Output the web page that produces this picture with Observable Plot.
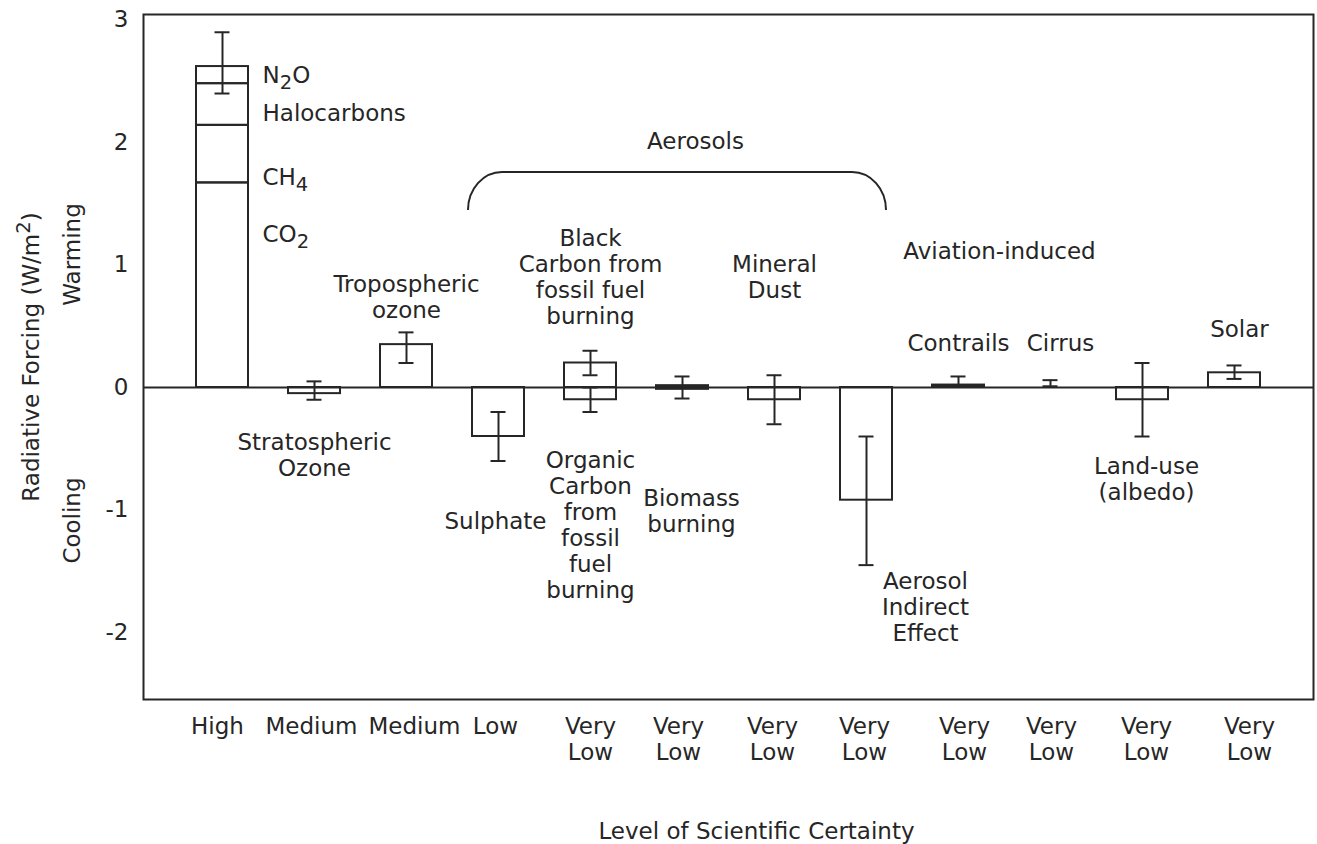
<!DOCTYPE html>
<html>
<head>
<meta charset="utf-8">
<script src="https://cdn.jsdelivr.net/npm/d3@7"></script>
<script src="https://cdn.jsdelivr.net/npm/@observablehq/plot@0.6"></script>
<style>
  html, body { margin: 0; padding: 0; background: #fff; overflow: hidden; }
</style>
</head>
<body>
<div id="chart"></div>
<script>
// ---------- data ----------
const agents = [
  "Well-mixed greenhouse gases", "Stratospheric ozone", "Tropospheric ozone", "Sulphate",
  "Fossil fuel carbon", "Biomass burning", "Mineral dust", "Aerosol indirect effect",
  "Contrails", "Cirrus", "Land-use (albedo)", "Solar"
];
const certainty = [
  "High", "Medium", "Medium", "Low", "Very\nLow", "Very\nLow", "Very\nLow", "Very\nLow",
  "Very\nLow", "Very\nLow", "Very\nLow", "Very\nLow"
];

// stacked well-mixed greenhouse gases (W/m2)
const ghgGases = ["CO₂", "CH₄", "Halocarbons", "N₂O"];
const ghgForcing = [1.67, 0.47, 0.34, 0.14];

// other forcing boxes: agent, base, top (W/m2)
const barAgents = [
  "Stratospheric ozone", "Tropospheric ozone", "Sulphate", "Fossil fuel carbon", "Fossil fuel carbon",
  "Biomass burning", "Mineral dust", "Aerosol indirect effect", "Contrails", "Land-use (albedo)", "Solar"
];
const barBase = [0, 0, 0, 0, 0, -0.015, 0, 0, 0, 0, 0];
const barTop  = [-0.05, 0.35, -0.4, 0.2, -0.1, 0.015, -0.1, -0.92, 0.02, -0.1, 0.12];

// uncertainty ranges
const errAgents = [
  "Well-mixed greenhouse gases", "Stratospheric ozone", "Tropospheric ozone", "Sulphate",
  "Fossil fuel carbon", "Fossil fuel carbon", "Biomass burning", "Mineral dust",
  "Aerosol indirect effect", "Contrails", "Cirrus", "Land-use (albedo)", "Solar"
];
const errLow  = [2.4, -0.1, 0.2, -0.6, 0.1, -0.2, -0.09, -0.3, -1.45, 0.01, 0.01, -0.4, 0.07];
const errHigh = [2.9, 0.05, 0.45, -0.2, 0.3, 0.0, 0.09, 0.1, -0.4, 0.09, 0.06, 0.2, 0.18];

// annotation texts, the bar they belong to, and their height (W/m2)
const labelText = [
  "N₂O", "Halocarbons", "CH₄", "CO₂",
  "Tropospheric\nozone", "Stratospheric\nOzone", "Aerosols",
  "Black\nCarbon from\nfossil fuel\nburning", "Mineral\nDust", "Aviation-induced",
  "Contrails", "Cirrus", "Solar", "Sulphate",
  "Organic\nCarbon\nfrom\nfossil\nfuel\nburning", "Biomass\nburning",
  "Aerosol\nIndirect\nEffect", "Land-use\n(albedo)"
];
const labelAgent = [
  "Well-mixed greenhouse gases", "Well-mixed greenhouse gases", "Well-mixed greenhouse gases", "Well-mixed greenhouse gases",
  "Tropospheric ozone", "Stratospheric ozone", "Biomass burning",
  "Fossil fuel carbon", "Mineral dust", "Contrails",
  "Contrails", "Cirrus", "Solar", "Sulphate",
  "Fossil fuel carbon", "Biomass burning",
  "Aerosol indirect effect", "Land-use (albedo)"
];
const labelAt = [
  2.55, 2.245, 1.72, 1.257,
  0.743, -0.547, 2.016,
  0.902, 0.902, 1.118,
  0.367, 0.367, 0.48, -1.086,
  -1.122, -1.004,
  -1.788, -0.747
];
const sideLabels = ["Warming", "Cooling"];
const sideAt = [1.086, -1.086];

// ---------- layout (styling only) ----------
const labelDx = [40, 40, 40, 40, 0, 0, 13, 0, 0, 41, 0, 10, 5, -3, 0, 9, 59, 4];
const labelAlign = ["start", "start", "start", "start", "middle", "middle", "middle", "middle", "middle",
  "middle", "middle", "middle", "middle", "middle", "middle", "middle", "middle", "middle"];
const tickDx = [-5, -3, 8, -3, 0, -4, -2, -2, 6, 1, 4, 15];

const ink = "#262626";
const W = 1317, H = 844;

const ghgData = ghgGases.map((g, i) => ({agent: agents[0], gas: g, value: ghgForcing[i]}));
const bars = barAgents.map((a, i) => ({agent: a, y1: barBase[i], y2: barTop[i]}));
const errs = errAgents.map((a, i) => ({agent: a, lo: errLow[i], hi: errHigh[i]}));
const labels = labelText.map((t, i) => ({text: t, agent: labelAgent[i], y: labelAt[i], dx: labelDx[i], anchor: labelAlign[i]}));
const sides = sideLabels.map((t, i) => ({text: t, y: sideAt[i]}));

// Aerosols bracket drawn through the plot's scales
function aerosolBracket(index, scales) {
  const x = scales.x, y = scales.y;
  const bw = typeof x.bandwidth === "function" ? x.bandwidth() : 0;
  const xl = x("Sulphate") - 4;
  const xr = x("Aerosol indirect effect") + bw - 6;
  const yt = y(1.755), yb = y(1.445);
  const rx = 34, ry = yb - yt;
  const g = d3.create("svg:g");
  g.append("path")
    .attr("fill", "none").attr("stroke", ink).attr("stroke-width", 2)
    .attr("d", `M${xl},${yb} A${rx},${ry} 0 0 1 ${xl + rx},${yt} H${xr - rx} A${rx},${ry} 0 0 1 ${xr},${yb}`);
  return g.node();
}

const chart = Plot.plot({
  width: W,
  height: H,
  marginLeft: 143,
  marginRight: 4,
  marginTop: 14,
  marginBottom: 145,
  style: {fontFamily: "DejaVu Sans, sans-serif", fontSize: "23px", color: ink, background: "#fff"},
  x: {domain: agents, paddingInner: 0.43, paddingOuter: 0.54},
  y: {domain: [-2.547, 3.045]},
  marks: [
    Plot.frame({stroke: ink, strokeWidth: 2}),
    Plot.ruleY([0], {stroke: ink, strokeWidth: 2}),
    Plot.barY(ghgData, {x: "agent", y: "value", fill: "none", stroke: ink, strokeWidth: 2}),
    Plot.barY(bars, {x: "agent", y1: "y1", y2: "y2",
      fill: d => Math.abs(d.y2 - d.y1) < 0.05 ? ink : "none", stroke: ink, strokeWidth: 2}),
    Plot.ruleX(errs, {x: "agent", y1: "lo", y2: "hi", stroke: ink, strokeWidth: 2}),
    Plot.tickY(errs, {x: "agent", y: "lo", stroke: ink, strokeWidth: 2, insetLeft: 18.5, insetRight: 18.5}),
    Plot.tickY(errs, {x: "agent", y: "hi", stroke: ink, strokeWidth: 2, insetLeft: 18.5, insetRight: 18.5}),
    aerosolBracket,
    ...labels.map(l => Plot.text([l], {
      x: "agent", y: "y", text: "text", dx: l.dx, textAnchor: l.anchor,
      lineHeight: 1.13, fill: ink, fontSize: 23
    })),
    Plot.text(sides, {frameAnchor: "left", y: "y", text: "text", rotate: -90, textAnchor: "middle",
      dx: -71, fill: ink, fontSize: 23}),
    Plot.axisY({
      ticks: [-2, -1, 0, 1, 2, 3], tickSize: 0, tickPadding: 15, tickFormat: d => String(d),
      label: "Radiative Forcing (W/m²)", labelAnchor: "center", labelOffset: 121, labelArrow: false,
      fill: ink, fontSize: 23
    }),
    ...agents.map((a, i) => Plot.axisX({
      ticks: [a], tickSize: 0, tickPadding: 16, dx: tickDx[i],
      tickFormat: d => certainty[agents.indexOf(d)], lineHeight: 1.13,
      label: null, fill: ink, fontSize: 23
    })),
    Plot.text(["Level of Scientific Certainty"], {frameAnchor: "bottom", text: d => d,
      lineAnchor: "bottom", dy: 139, dx: 28, fill: ink, fontSize: 23})
  ]
});

// strip any automatic axis arrows
chart.querySelectorAll("text, tspan").forEach(el => {
  if (el.children.length) return;
  const t = el.textContent;
  if (/[→↑↓←]/.test(t)) el.textContent = t.replace(/\s*[→↑↓←]\s*/g, "");
});

// real sub/superscripts for chemical formulas and units
const scripts = {"₂": ["2", 6], "₄": ["4", 6], "²": ["2", -9]};
chart.querySelectorAll("text, tspan").forEach(el => {
  if (el.children.length) return;
  const t = el.textContent;
  if (!/[₂₄²]/.test(t)) return;
  el.textContent = "";
  let shift = 0;
  for (const part of t.split(/([₂₄²])/)) {
    if (!part) continue;
    const ts = document.createElementNS("http://www.w3.org/2000/svg", "tspan");
    if (scripts[part]) {
      const [ch, dy] = scripts[part];
      ts.textContent = ch;
      ts.setAttribute("dy", dy - shift);
      ts.setAttribute("font-size", "0.85em");
      shift = dy;
    } else {
      ts.textContent = part;
      if (shift) ts.setAttribute("dy", -shift);
      shift = 0;
    }
    el.appendChild(ts);
  }
});

document.getElementById("chart").appendChild(chart);
</script>
</body>
</html>
